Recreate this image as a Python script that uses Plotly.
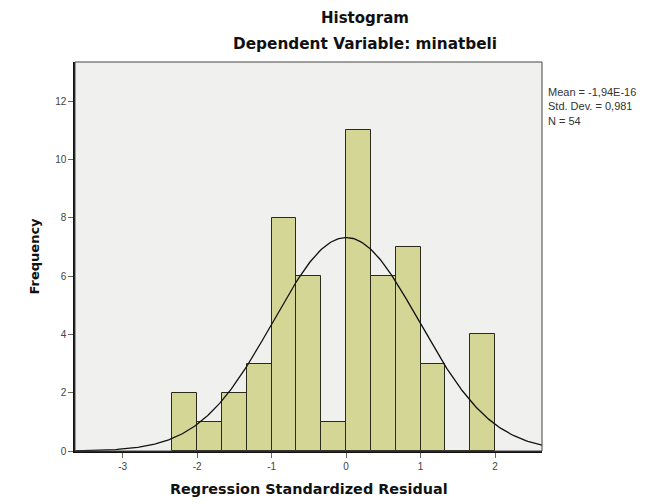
import numpy as np
import plotly.graph_objects as go

# Data
bin_left_edges = [-7/3, -2, -5/3, -4/3, -1, -2/3, -1/3, 0, 1/3, 2/3, 1, 4/3, 5/3]
bin_width = 1/3
frequencies = [2, 1, 2, 3, 8, 6, 1, 11, 6, 7, 3, 0, 4]
mean_val = -1.94e-16
std_val = 0.981
n_val = 54
stats_lines = ["Mean = -1,94E-16", "Std. Dev. = 0,981", f"N = {n_val}"]
x_ticks = [-3, -2, -1, 0, 1, 2]
y_ticks = [0, 2, 4, 6, 8, 10, 12]

centers = [e + bin_width / 2 for e in bin_left_edges]

# Normal curve fitted to the stats above
xc = np.linspace(-3.64, 2.63, 300)
yc = n_val * bin_width * np.exp(-0.5 * ((xc - mean_val) / std_val) ** 2) / (std_val * np.sqrt(2 * np.pi))

BOLD = "DejaVu Sans, Verdana, sans-serif"
REG = "Liberation Sans, Arial, sans-serif"

fig = go.Figure()
fig.add_trace(go.Bar(
    x=centers, y=frequencies, width=bin_width,
    marker=dict(color="#d4d695", line=dict(color="#2a2a1a", width=1)),
    showlegend=False, hoverinfo="skip"))
fig.add_trace(go.Scatter(
    x=xc, y=yc, mode="lines", line=dict(color="#111111", width=1.3),
    showlegend=False, hoverinfo="skip"))

annotations = [
    dict(text="<b>Histogram</b>", x=0.5, y=1, xref="paper", yref="paper",
         xanchor="center", yanchor="middle", xshift=56, yshift=44, showarrow=False,
         font=dict(family=BOLD, size=15, color="#111")),
    dict(text="<b>Dependent Variable: minatbeli</b>", x=0.5, y=1, xref="paper", yref="paper",
         xanchor="center", yanchor="middle", xshift=56, yshift=18, showarrow=False,
         font=dict(family=BOLD, size=15.3, color="#111")),
    dict(text="<b>Regression Standardized Residual</b>", x=0.5, y=0, xref="paper", yref="paper",
         xanchor="center", yanchor="middle", yshift=-38, showarrow=False,
         font=dict(family=BOLD, size=14.4, color="#111")),
    dict(text="<b>Frequency</b>", x=0, y=0.5, xref="paper", yref="paper",
         xanchor="center", yanchor="middle", xshift=-41, textangle=-90, showarrow=False,
         font=dict(family=BOLD, size=13, color="#111")),
    dict(text="<br>".join(stats_lines), x=1, y=1, xref="paper", yref="paper",
         xanchor="left", yanchor="top", xshift=4, yshift=-22, showarrow=False, align="left",
         font=dict(family=REG, size=11, color="#333")),
]

fig.update_layout(
    width=641, height=496,
    margin=dict(l=67, r=107, t=54, b=53),
    paper_bgcolor="white", plot_bgcolor="#f0f0ee",
    font=dict(family=REG, color="#222"),
    bargap=0,
    annotations=annotations,
    shapes=[dict(type="rect", xref="paper", yref="paper", x0=0, y0=0, x1=1, y1=1,
                 line=dict(color="#444", width=1), fillcolor="rgba(0,0,0,0)", layer="above")],
)
fig.update_xaxes(
    range=[-3.64, 2.63], tickvals=x_ticks, ticktext=[str(v) for v in x_ticks],
    showgrid=False, zeroline=False, showline=True, linecolor="#111", linewidth=1.5,
    ticks="outside", ticklen=5, tickcolor="#666", tickfont=dict(size=10, color="#444"))
fig.update_yaxes(
    range=[0, 13.34], tickvals=y_ticks,
    showgrid=False, zeroline=False, showline=True, linecolor="#111", linewidth=1.5,
    ticks="outside", ticklen=5, tickcolor="#666", tickfont=dict(size=10, color="#444"))

fig.write_html("out.html")
